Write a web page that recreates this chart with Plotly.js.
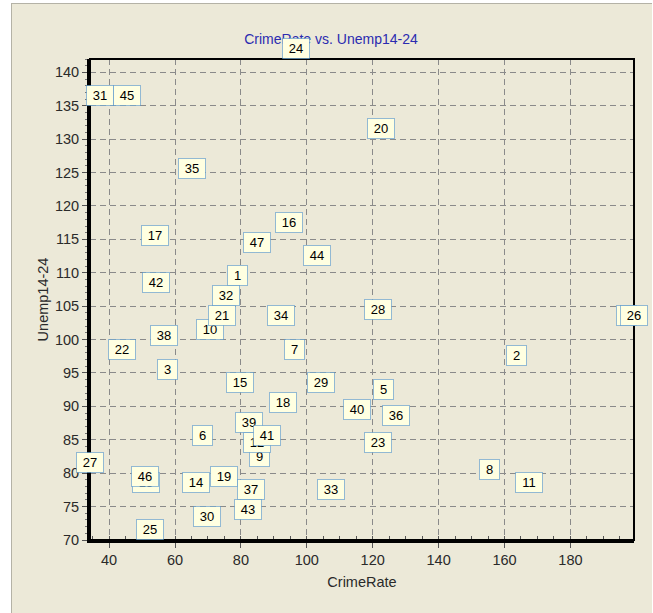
<!DOCTYPE html>
<html>
<head>
<meta charset="utf-8">
<script src="https://cdn.plot.ly/plotly-3.0.1.min.js"></script>
<style>
  html, body { margin: 0; padding: 0; background: #ffffff; width: 653px; height: 613px; overflow: hidden; }
  #frame { position: absolute; left: 11px; top: 3px; width: 640px; height: 612px; border-left: 1px solid #b4b2a6; border-top: 1px solid #b4b2a6; background: #ECE9D8; }
  #chart { position: absolute; left: 12px; top: 4px; width: 638px; height: 609px; }
  g.annotation-text-g rect.bg { stroke-dasharray: 1 1; }
</style>
</head>
<body>
<div id="frame"></div>
<div id="chart"></div>
<script>
// Observation labels (state index)
const labels = ["1","2","3","4","5","6","7","8","9","10","11","12","13","14","15","16",
  "17","18","19","20","21","22","23","24","25","26","27","28","29","30","31","32",
  "33","34","35","36","37","38","39","40","41","42","43","44","45","46","47"];

// CrimeRate (x)
const crimeRate = [79.1,163.5,57.8,196.9,123.4,68.2,96.3,155.5,85.6,70.5,167.4,84.9,
  51.1,66.4,79.8,94.6,53.9,92.9,75.0,122.5,74.2,43.9,121.6,96.8,52.3,199.3,34.2,
  121.6,104.3,69.6,37.3,75.4,107.2,92.3,65.3,127.2,83.1,56.6,82.6,115.1,88.0,54.2,
  82.3,103.0,45.5,50.8,84.9];

// Unemp14-24 (y)
const unemp1424 = [108,96,94,102,91,84,97,79,81,100,77,83,77,77,92,116,114,89,78,130,
  102,97,83,142,70,102,80,103,92,72,135,105,76,102,124,87,76,99,86,88,84,107,73,111,
  135,78,113];

const xTicks = [40,60,80,100,120,140,160,180];
const yTicks = [70,75,80,85,90,95,100,105,110,115,120,125,130,135,140];

const FONT = '"Liberation Sans", Arial, sans-serif';

const trace = {
  type: 'scatter',
  mode: 'markers',
  x: crimeRate,
  y: unemp1424,
  text: labels,
  marker: { size: 1, color: 'rgba(0,0,0,0)' },
  hoverinfo: 'text+x+y',
  showlegend: false
};

const annotations = labels.map((lab, i) => ({
  x: crimeRate[i],
  y: unemp1424[i],
  xref: 'x', yref: 'y',
  text: lab,
  showarrow: false,
  xanchor: 'center',
  yanchor: 'bottom',
  font: { family: FONT, size: 13, color: '#000000' },
  bgcolor: '#FFFFE1',
  bordercolor: '#2F7FC8',
  borderwidth: 1,
  borderpad: 2,
  width: lab.length > 1 ? 22 : 15,
  height: 15
}));

const layout = {
  width: 638,
  height: 609,
  margin: { l: 78, r: 16, t: 55, b: 73, pad: 0 },
  paper_bgcolor: '#ECE9D8',
  plot_bgcolor: '#ECE9D8',
  font: { family: FONT, size: 14, color: '#2a2a2a' },
  title: {
    text: 'CrimeRate vs. Unemp14-24',
    font: { family: FONT, size: 14, color: '#2B2BB0' },
    x: 0.5, xref: 'container', xanchor: 'center',
    y: 0.9425, yref: 'container', yanchor: 'middle'
  },
  xaxis: {
    range: [Math.min(...crimeRate), Math.max(...crimeRate)],
    tickvals: xTicks,
    ticktext: xTicks.map(String),
    showgrid: true,
    gridcolor: '#8a8a8a',
    gridwidth: 1,
    griddash: '6px,4px',
    zeroline: false,
    showline: true,
    linecolor: '#000000',
    linewidth: 3,
    ticks: 'outside',
    ticklen: 5,
    tickcolor: '#555555',
    tickfont: { family: FONT, size: 14.5, color: '#2a2a2a' },
    minor: { dtick: 5, ticks: 'inside', ticklen: 4, tickcolor: '#555555', showgrid: false },
    title: { text: 'CrimeRate', font: { family: FONT, size: 14.5, color: '#2a2a2a' }, standoff: 10 },
    automargin: false,
    fixedrange: true
  },
  yaxis: {
    range: [Math.min(...unemp1424), Math.max(...unemp1424)],
    tickvals: yTicks,
    ticktext: yTicks.map(String),
    showgrid: true,
    gridcolor: '#8a8a8a',
    gridwidth: 1,
    griddash: '6px,4px',
    zeroline: false,
    showline: true,
    linecolor: '#000000',
    linewidth: 3,
    ticks: 'outside',
    ticklen: 5,
    tickcolor: '#555555',
    tickfont: { family: FONT, size: 14.5, color: '#2a2a2a' },
    minor: { dtick: 1, ticks: 'outside', ticklen: 2, tickcolor: '#777777', showgrid: false },
    title: { text: 'Unemp14-24', font: { family: FONT, size: 14.5, color: '#2a2a2a' }, standoff: 3 },
    automargin: false,
    fixedrange: true
  },
  shapes: [{
    type: 'rect', xref: 'paper', yref: 'paper', x0: 0, x1: 1, y0: 0, y1: 1,
    line: { color: '#000000', width: 2 }, fillcolor: 'rgba(0,0,0,0)', layer: 'above'
  }],
  annotations: annotations,
  showlegend: false
};

Plotly.newPlot('chart', [trace], layout, { displayModeBar: false, staticPlot: true });
</script>
</body>
</html>
